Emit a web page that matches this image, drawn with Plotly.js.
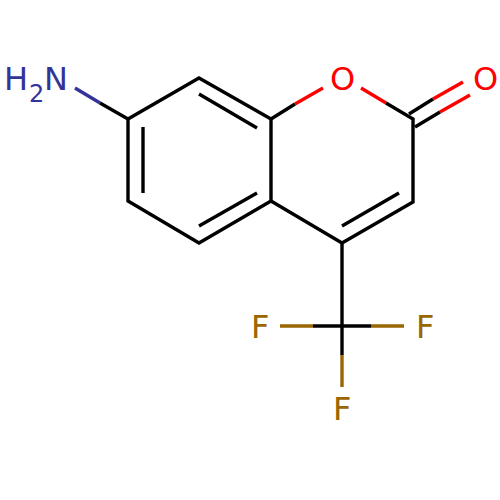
<!DOCTYPE html>
<html>
<head>
<meta charset="utf-8">
<script src="https://cdn.plot.ly/plotly-3.0.1.min.js"></script>
<style>html,body{margin:0;padding:0;background:#fff}#chart{width:500px;height:500px}</style>
</head>
<body>
<div id="chart"></div>
<script>
// Skeleton bonds; null separates bonds
var skeletonX = [100,128,199,271,271,199,128,128,null,295,271,null,271,342,413,413,386,null,342,342,null,313,371,null,342,342,null,409,433,null,415,440];
var skeletonY = [103,119,78,119,201,243,201,119,null,104,119,null,201,243,202,119,103,null,243,326,null,326,326,null,326,355,null,114,99,null,127,112];
var innerX = [143,143,null,199,257,null,199,257,null,342,399];
var innerY = [127,193,null,94,128,null,226,193,null,226,193];
var nitrogenX = [75,100];
var nitrogenY = [88,103];
var oxygenX = [295,323,null,361,386,null,433,463,null,440,470];
var oxygenY = [104,88,null,88,103,null,99,82,null,112,95];
var fluorineX = [280,313,null,371,404,null,342,342];
var fluorineY = [326,326,null,326,326,null,355,387];
var labels = ["H","2","N","O","O","F","F","F"];
var labelX = [15.5,36,56,342,485,260,425,342];
var labelY = [79,93.5,79,79,79,327,327,409];
var labelSizes = [32,24,32,32,32,32,32,32];
var labelColors = ["#333399","#333399","#333399","#FF0000","#FF0000","#996600","#996600","#996600"];

function bond(x,y,color){
  return {x:x,y:y,type:"scatter",mode:"lines",hoverinfo:"skip",showlegend:false,
          connectgaps:false,line:{color:color,width:3.4}};
}
var data = [
  bond(nitrogenX,nitrogenY,"#333399"),
  bond(oxygenX,oxygenY,"#FF0000"),
  bond(fluorineX,fluorineY,"#996600"),
  bond(skeletonX,skeletonY,"#000000"),
  bond(innerX,innerY,"#000000")
];
var hidden = {visible:false,fixedrange:true};
var layout = {
  width:500,height:500,margin:{l:0,r:0,t:0,b:0},
  paper_bgcolor:"#fff",plot_bgcolor:"#fff",showlegend:false,
  xaxis:Object.assign({range:[0,500]},hidden),
  yaxis:Object.assign({range:[500,0]},hidden),
  annotations:labels.map(function(t,i){
    return {text:t,x:labelX[i],y:labelY[i],xref:"x",yref:"y",showarrow:false,
            xanchor:"center",yanchor:"middle",borderpad:0,
            font:{family:"DejaVu Sans",size:labelSizes[i],color:labelColors[i]}};
  })
};
Plotly.newPlot("chart",data,layout,{staticPlot:true,displayModeBar:false});
</script>
</body>
</html>
